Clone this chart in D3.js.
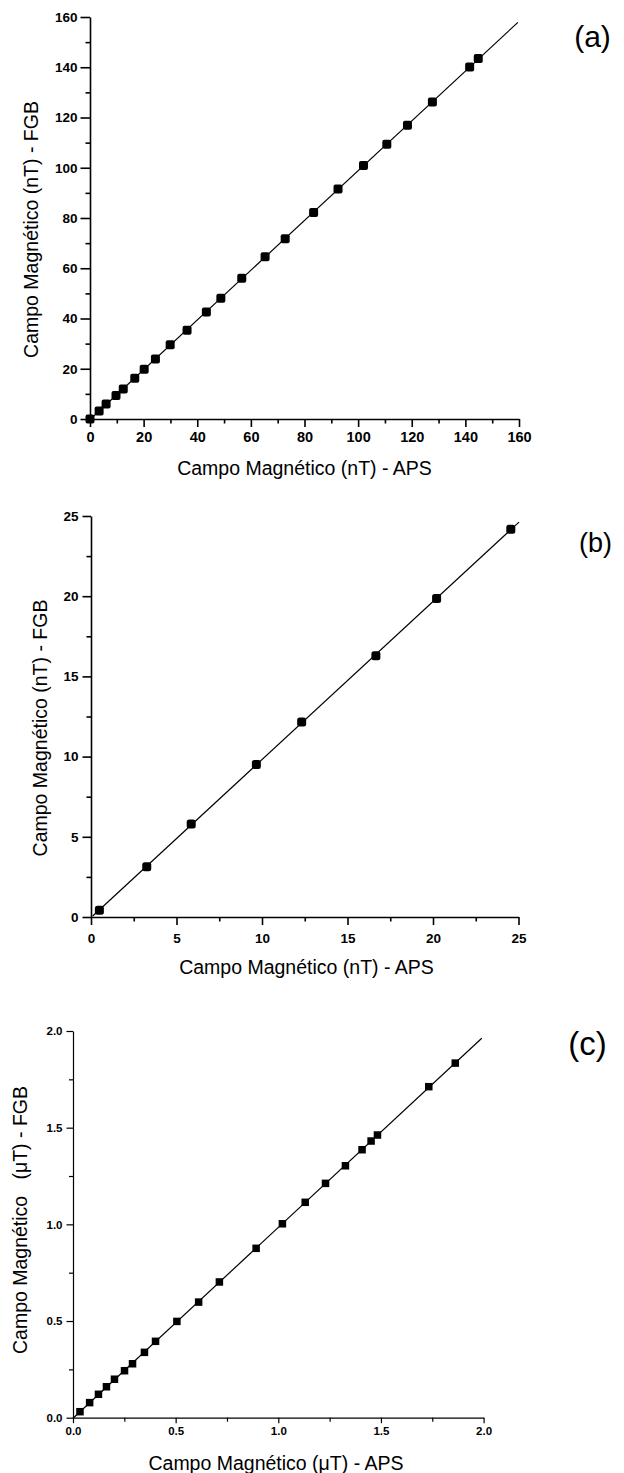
<!DOCTYPE html>
<html>
<head>
<meta charset="utf-8">
<script src="https://cdn.jsdelivr.net/npm/d3@7"></script>
<style>
  body { margin: 0; background: #fff; }
  text { font-family: "Liberation Sans", Arial, Helvetica, sans-serif; fill: #000; }
</style>
</head>
<body>
<svg id="fig" width="624" height="1473"></svg>
<script>
// (a) field comparison, nT
const apsA = [0, 3.4, 6.0, 9.7, 12.4, 16.7, 20.2, 24.4, 29.9, 36.2, 43.4, 48.8, 56.6,
              65.3, 72.8, 83.4, 92.5, 102.0, 110.7, 118.4, 127.7, 141.6, 144.8];
const fgbA = [0, 3.2, 6.0, 9.4, 11.9, 16.2, 19.8, 23.9, 29.6, 35.3, 42.6, 48.1, 56.0,
              64.6, 71.7, 82.2, 91.5, 100.9, 109.4, 116.9, 126.2, 140.1, 143.5];
const ticksA = [0, 20, 40, 60, 80, 100, 120, 140, 160];
const fitSpanA = [0, 159.6];

// (b) low-field comparison, nT
const apsB = [0.49, 3.26, 5.86, 9.67, 12.32, 16.66, 20.21, 24.55];
const fgbB = [0.42, 3.14, 5.80, 9.50, 12.16, 16.29, 19.86, 24.17];
const ticksB = [0, 5, 10, 15, 20, 25];
const fitSpanB = [0.1, 25.03];

// (c) field comparison, µT
const apsC = [0.034, 0.081, 0.124, 0.163, 0.202, 0.251, 0.290, 0.348, 0.402, 0.506, 0.612,
              0.713, 0.892, 1.020, 1.131, 1.230, 1.327, 1.408, 1.452, 1.483, 1.733, 1.862];
const fgbC = [0.031, 0.078, 0.121, 0.160, 0.199, 0.243, 0.279, 0.338, 0.395, 0.498, 0.598,
              0.702, 0.876, 1.003, 1.114, 1.212, 1.303, 1.386, 1.431, 1.462, 1.712, 1.834];
const ticksC = [0, 0.5, 1.0, 1.5, 2.0];
const fitSpanC = [0, 1.991];

const svg = d3.select("#fig");

// least-squares straight line through the measured pairs
function linearFit(xs, ys) {
  const mx = d3.mean(xs), my = d3.mean(ys);
  let sxy = 0, sxx = 0;
  xs.forEach((x, i) => { sxy += (x - mx) * (ys[i] - my); sxx += (x - mx) * (x - mx); });
  const b = sxy / sxx;
  return { a: my - b * mx, b };
}

function panel(cfg) {
  const g = svg.append("g");
  const x = d3.scaleLinear().domain(cfg.domain).range([cfg.left, cfg.right]);
  const y = d3.scaleLinear().domain(cfg.domain).range([cfg.bottom, cfg.top]);
  const step = cfg.ticks[1] - cfg.ticks[0];
  const minor = cfg.ticks.slice(0, -1).map(t => t + step / 2);

  // minor ticks
  g.append("g").attr("transform", `translate(0,${cfg.bottom})`)
    .call(d3.axisBottom(x).tickValues(minor).tickSize(cfg.minorLen).tickFormat("").tickSizeOuter(0))
    .call(s => s.select(".domain").remove());
  g.append("g").attr("transform", `translate(${cfg.left},0)`)
    .call(d3.axisLeft(y).tickValues(minor).tickSize(cfg.minorLen).tickFormat("").tickSizeOuter(0))
    .call(s => s.select(".domain").remove());

  // major ticks and labels
  const xa = g.append("g").attr("transform", `translate(0,${cfg.bottom})`)
    .call(d3.axisBottom(x).tickValues(cfg.ticks).tickSize(cfg.xTick).tickPadding(cfg.xPad)
      .tickSizeOuter(0).tickFormat(cfg.fmt));
  const ya = g.append("g").attr("transform", `translate(${cfg.left},0)`)
    .call(d3.axisLeft(y).tickValues(cfg.ticks).tickSize(cfg.yTick).tickPadding(cfg.yPad)
      .tickSizeOuter(0).tickFormat(cfg.fmt));
  [xa, ya].forEach(a => {
    a.selectAll("path, line").attr("stroke", "#000").attr("stroke-width", cfg.axisW);
    a.selectAll("text").attr("font-weight", "bold").attr("fill", "#000");
  });
  xa.selectAll("text").attr("font-size", cfg.xFont);
  ya.selectAll("text").attr("font-size", cfg.yFont);
  g.selectAll(".tick line").attr("stroke", "#000").attr("stroke-width", cfg.axisW);

  // fitted line
  const fit = linearFit(cfg.xs, cfg.ys);
  g.append("path")
    .datum(cfg.span)
    .attr("fill", "none").attr("stroke", "#000").attr("stroke-width", 1.2)
    .attr("d", d3.line().x(d => x(d)).y(d => y(fit.a + fit.b * d)));

  // data markers
  const s = cfg.marker;
  g.append("g").selectAll("rect")
    .data(cfg.xs.map((v, i) => [v, cfg.ys[i]]))
    .join("rect")
    .attr("x", d => x(d[0]) - s / 2).attr("y", d => y(d[1]) - s / 2)
    .attr("width", s).attr("height", s).attr("rx", cfg.round)
    .attr("fill", "#000");

  // axis titles
  g.append("text")
    .attr("x", cfg.xTitlePos[0]).attr("y", cfg.xTitlePos[1])
    .attr("text-anchor", "middle").attr("font-size", 19.5)
    .text(cfg.xTitle);
  g.append("text")
    .attr("transform", `translate(${cfg.yTitlePos[0]},${cfg.yTitlePos[1]}) rotate(-90)`)
    .attr("text-anchor", "middle").attr("font-size", 19.5)
    .style("white-space", "pre")
    .text(cfg.yTitle);

  // panel letter
  g.append("text")
    .attr("x", cfg.tagPos[0]).attr("y", cfg.tagPos[1])
    .attr("text-anchor", "middle").attr("font-size", cfg.tagSize)
    .text(cfg.tag);
}

panel({
  xs: apsA, ys: fgbA, ticks: ticksA, span: fitSpanA, domain: [0, 160],
  left: 90, right: 519, top: 17, bottom: 419,
  fmt: d3.format("d"), minorLen: 4.5, xTick: 8, xPad: 5, yTick: 9.5, yPad: 3,
  xFont: 14.5, yFont: 13.5, axisW: 1.6, marker: 9, round: 2,
  xTitle: "Campo Magnético (nT) - APS", xTitlePos: [304.5, 474.5],
  yTitle: "Campo Magnético (nT) - FGB", yTitlePos: [37.5, 229.5],
  tag: "(a)", tagPos: [592.5, 47], tagSize: 30
});

panel({
  xs: apsB, ys: fgbB, ticks: ticksB, span: fitSpanB, domain: [0, 25],
  left: 91, right: 518.5, top: 516, bottom: 917,
  fmt: d3.format("d"), minorLen: 4.5, xTick: 8, xPad: 8, yTick: 8.5, yPad: 4,
  xFont: 13.5, yFont: 13.5, axisW: 1.6, marker: 9, round: 2.5,
  xTitle: "Campo Magnético (nT) - APS", xTitlePos: [306.5, 973.5],
  yTitle: "Campo Magnético (nT) - FGB", yTitlePos: [46.7, 728],
  tag: "(b)", tagPos: [595.5, 552], tagSize: 27
});

panel({
  xs: apsC, ys: fgbC, ticks: ticksC, span: fitSpanC, domain: [0, 2],
  left: 73, right: 483.6, top: 1031, bottom: 1417.7,
  fmt: d3.format(".1f"), minorLen: 4, xTick: 5.5, xPad: 4, yTick: 6.5, yPad: 4,
  xFont: 11.5, yFont: 11.5, axisW: 1.2, marker: 7.5, round: 0,
  xTitle: "Campo Magnético (μT) - APS", xTitlePos: [276, 1470],
  yTitle: "Campo Magnético   (μT) - FGB", yTitlePos: [27, 1220],
  tag: "(c)", tagPos: [587.5, 1054.7], tagSize: 33
});
</script>
</body>
</html>
